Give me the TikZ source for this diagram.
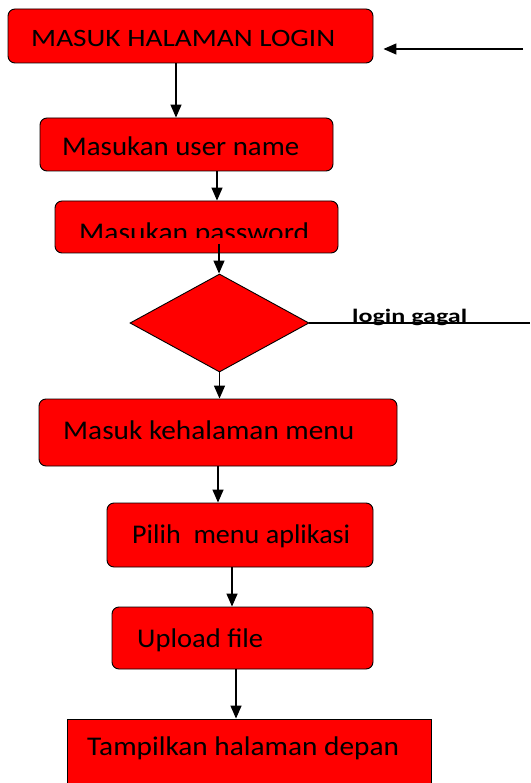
\documentclass[tikz,border=0pt]{standalone}
\usepackage{fontspec}
\setmainfont{Carlito}
\usetikzlibrary{arrows.meta,shapes.geometric}
\tikzset{
  box/.style={draw=black, fill=red, line width=0.9pt, rounded corners=7pt, inner sep=0pt},
  sqbox/.style={draw=black, fill=red, line width=0.9pt, inner sep=0pt},
  lbl/.style={anchor=base west, inner sep=0pt, font=\fontsize{27}{32}\selectfont, text=black},
  flow/.style={line width=1.4pt, -{Triangle[length=13pt,width=11pt]}},
  plainline/.style={line width=1.4pt},
}
\newcommand\fitto[2]{\resizebox{#1}{\height}{#2}}
\begin{document}
\begin{tikzpicture}[x=1pt,y=-1pt]
\clip (0,0) rectangle (530,783);
\fill[white] (0,0) rectangle (530,783);

% boxes
\node[box, minimum width=365pt, minimum height=54pt] (b1) at (190.5,36) {};
\node[box, minimum width=293pt, minimum height=53pt] (b2) at (186.5,144.5) {};
\node[box, minimum width=283pt, minimum height=52pt] (b3) at (196.5,227) {};
\node[diamond, draw=black, fill=red, line width=0.9pt, inner sep=0pt, minimum width=179pt, minimum height=98pt] (d) at (219.5,323) {};
\node[box, minimum width=358pt, minimum height=67pt] (b4) at (218,432.5) {};
\node[box, minimum width=266pt, minimum height=64pt] (b5) at (240,535) {};
\node[box, minimum width=261pt, minimum height=62pt] (b6) at (242.5,638) {};
\node[sqbox, minimum width=364pt, minimum height=100pt] (b7) at (249,769) {};

% texts
\node[lbl, font=\fontsize{25}{30}\selectfont] (t1) at (31,47) {\fitto{304pt}{MASUK HALAMAN LOGIN}};
\node[lbl] (t2) at (62,156) {\fitto{237pt}{Masukan user name}};
\begin{scope}
  \clip (56,201) rectangle (338,238);
  \node[lbl] (t3) at (79,241) {\fitto{230pt}{Masukan password}};
\end{scope}
\node[lbl] (t4) at (63,439) {\fitto{291pt}{Masuk kehalaman menu}};
\node[lbl] (t5) at (132,543) {\fitto{218pt}{Pilih\ \ menu aplikasi}};
\node[lbl] (t6) at (137,647) {\fitto{126pt}{Upload file}};
\node[lbl] (t7) at (87,755) {\fitto{312pt}{Tampilkan halaman depan}};

% connectors
\coordinate (x1) at (176,0);
\coordinate (x2) at (217,0);
\coordinate (c3) at (219,244);
\coordinate (x4) at (218,0);
\coordinate (x5) at (232,0);
\coordinate (x6) at (236,0);
\coordinate (in) at (523,49);
\coordinate (out) at (530,323);

\draw[flow] (b1.south -| x1) -- (b2.north -| x1);
\draw[flow] (b2.south -| x2) -- (b3.north -| x2);
\draw[flow] (c3) -- (d.north -| c3);
\draw[flow] (d.south) -- (d.south |- b4.north);
\draw[flow] (b4.south -| x4) -- (b5.north -| x4);
\draw[flow] (b5.south -| x5) -- (b6.north -| x5);
\draw[flow] (b6.south -| x6) -- (b7.north -| x6);
\draw[flow] (in) -- ([xshift=10pt]b1.east |- in);
\draw[plainline] (d.east) -- (out);

\node[anchor=base west, inner sep=0pt, font=\bfseries\fontsize{19}{22}\selectfont] (lg) at (352,322) {\fitto{115pt}{login gagal}};
\end{tikzpicture}
\end{document}
